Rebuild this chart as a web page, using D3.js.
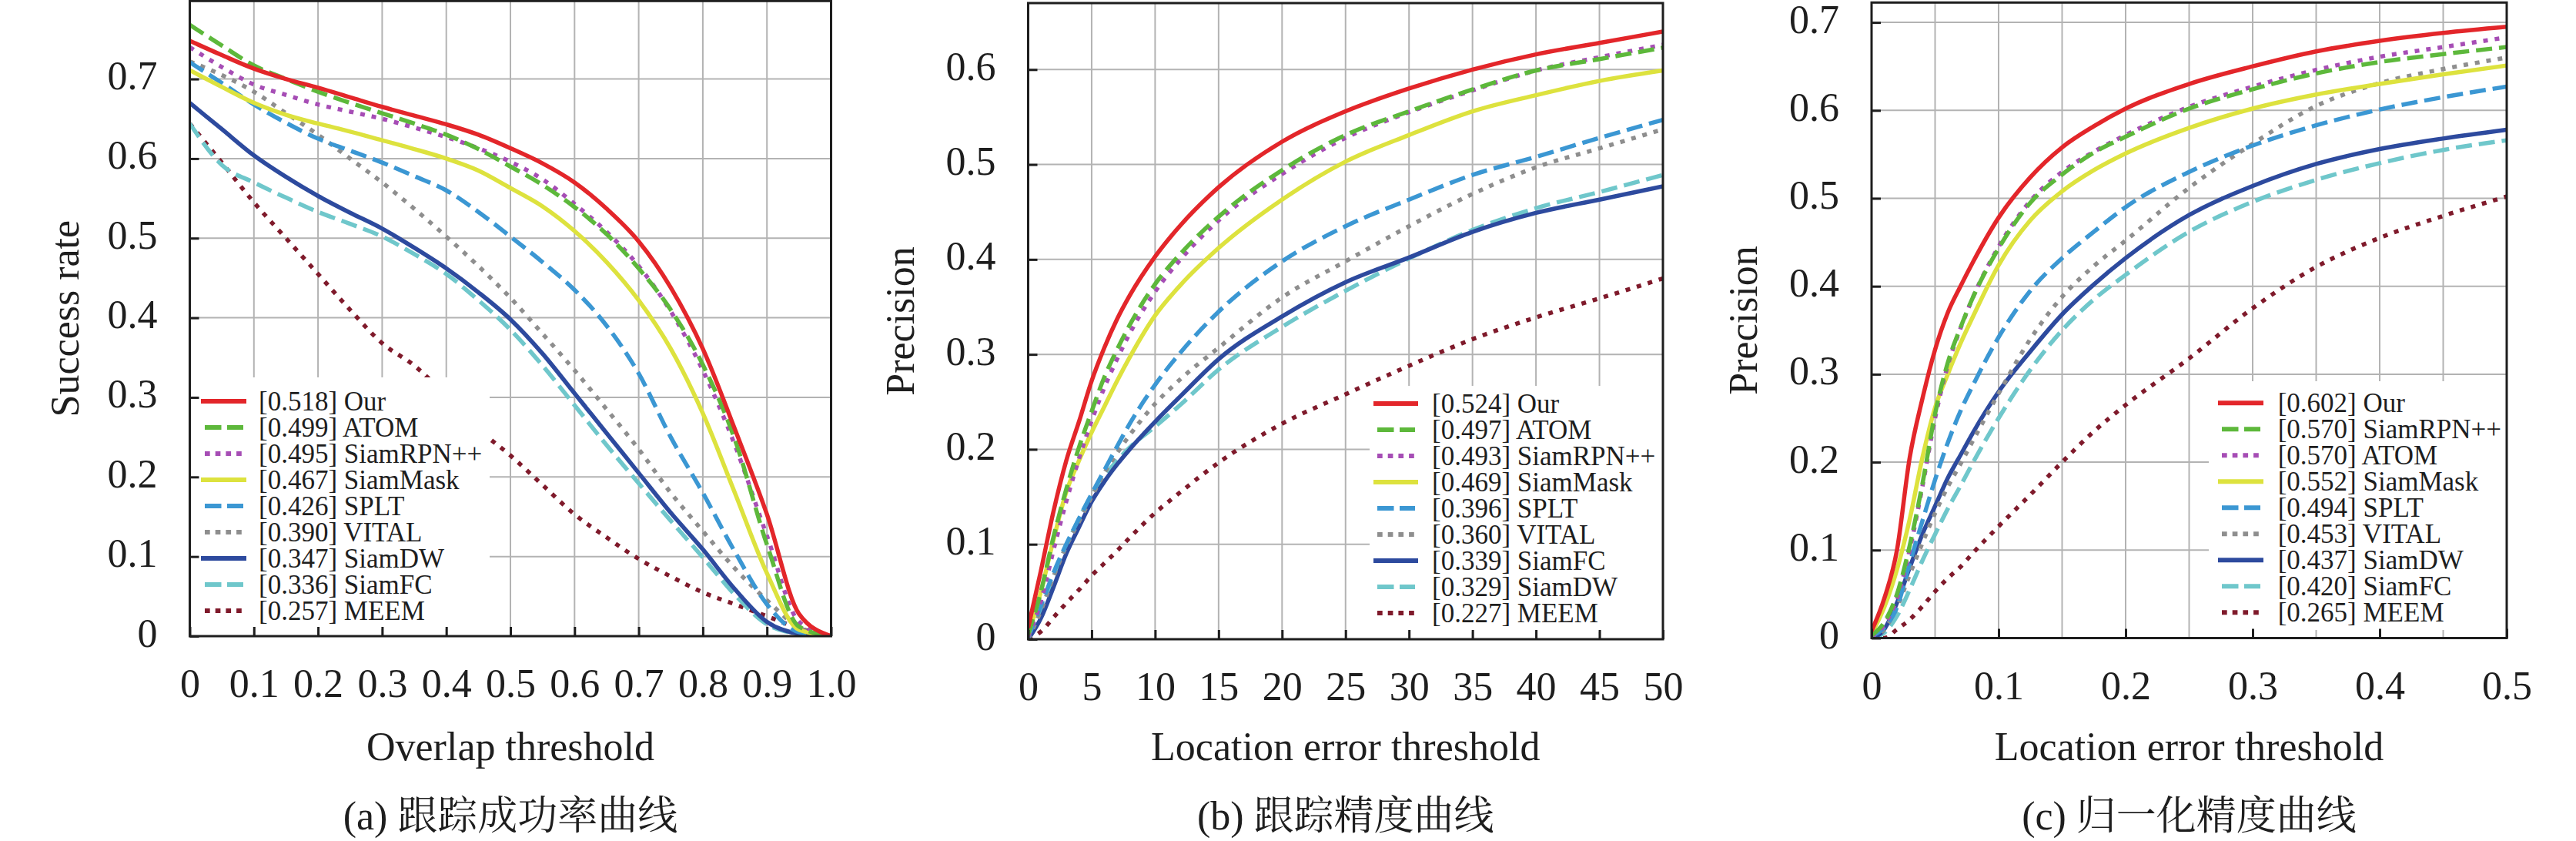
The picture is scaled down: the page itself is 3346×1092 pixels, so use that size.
<!DOCTYPE html>
<html>
<head>
<meta charset="utf-8">
<script src="https://cdn.jsdelivr.net/npm/d3@7"></script>
<style>
html,body{margin:0;padding:0;background:#fff;}
svg{display:block;}
</style>
</head>
<body>
<svg id="chart" width="3346" height="1092"></svg>
<script>
// ---------------- DATA ----------------
// (a) success plot
const xA = [0,0.05,0.1,0.15,0.2,0.25,0.3,0.35,0.4,0.45,0.5,0.55,0.6,0.65,0.7,0.75,0.8,0.85,0.9,0.95,1.0];
const a_our   = [0.748,0.730,0.713,0.700,0.689,0.677,0.665,0.654,0.643,0.630,0.613,0.594,0.570,0.537,0.496,0.438,0.361,0.260,0.153,0.028,0];
const a_atom  = [0.768,0.742,0.717,0.700,0.684,0.670,0.657,0.644,0.630,0.612,0.590,0.567,0.539,0.505,0.462,0.410,0.341,0.247,0.115,0.012,0];
const a_rpn   = [0.740,0.715,0.693,0.680,0.668,0.659,0.650,0.639,0.627,0.613,0.596,0.574,0.543,0.508,0.465,0.408,0.334,0.240,0.126,0.018,0];
const a_mask  = [0.711,0.690,0.670,0.655,0.644,0.634,0.623,0.612,0.600,0.585,0.563,0.540,0.509,0.470,0.422,0.361,0.280,0.180,0.079,0.008,0];
const a_splt  = [0.721,0.695,0.668,0.645,0.625,0.610,0.595,0.578,0.560,0.533,0.502,0.470,0.435,0.390,0.330,0.250,0.180,0.106,0.040,0.005,0];
const a_vital = [0.722,0.705,0.684,0.657,0.630,0.600,0.570,0.537,0.502,0.465,0.425,0.380,0.334,0.285,0.235,0.180,0.132,0.085,0.045,0.011,0];
const a_dw    = [0.670,0.637,0.604,0.577,0.553,0.532,0.512,0.488,0.462,0.432,0.398,0.355,0.305,0.255,0.205,0.155,0.109,0.059,0.018,0.003,0];
const a_fc    = [0.644,0.592,0.570,0.551,0.533,0.518,0.502,0.480,0.455,0.422,0.385,0.340,0.290,0.240,0.192,0.145,0.099,0.052,0.015,0.003,0];
const a_meem  = [0.644,0.595,0.545,0.500,0.455,0.410,0.368,0.340,0.302,0.260,0.227,0.190,0.153,0.124,0.097,0.075,0.055,0.040,0.025,0.010,0];
const namesA  = ["Our","ATOM","SiamRPN++","SiamMask","SPLT","VITAL","SiamDW","SiamFC","MEEM"];
const scoresA = ["0.518","0.499","0.495","0.467","0.426","0.390","0.347","0.336","0.257"];
const tickAX  = [0,0.1,0.2,0.3,0.4,0.5,0.6,0.7,0.8,0.9,1.0];
const tickAXLabels = ["0","0.1","0.2","0.3","0.4","0.5","0.6","0.7","0.8","0.9","1.0"];
const tickAY  = [0,0.1,0.2,0.3,0.4,0.5,0.6,0.7];
const tickAYLabels = ["0","0.1","0.2","0.3","0.4","0.5","0.6","0.7"];

// (b) precision plot
const xB = [0,1,2,3,4,5,6,7,8,10,12,15,20,25,30,35,40,45,50];
const b_our   = [0.012,0.072,0.135,0.188,0.229,0.272,0.307,0.337,0.362,0.403,0.436,0.476,0.524,0.556,0.580,0.600,0.616,0.628,0.640];
const b_atom  = [0.005,0.050,0.108,0.158,0.202,0.240,0.276,0.305,0.331,0.374,0.406,0.445,0.494,0.531,0.556,0.579,0.599,0.611,0.623];
const b_rpn   = [0.003,0.040,0.094,0.145,0.190,0.230,0.265,0.295,0.322,0.366,0.400,0.441,0.490,0.528,0.555,0.578,0.599,0.613,0.626];
const b_mask  = [0.005,0.050,0.105,0.155,0.188,0.218,0.245,0.272,0.297,0.341,0.373,0.412,0.463,0.503,0.531,0.556,0.573,0.588,0.599];
const b_splt  = [0.002,0.035,0.070,0.100,0.127,0.153,0.178,0.203,0.227,0.268,0.302,0.345,0.398,0.435,0.463,0.489,0.508,0.528,0.547];
const b_vital = [0,0.030,0.066,0.098,0.124,0.150,0.175,0.196,0.215,0.248,0.274,0.307,0.360,0.398,0.435,0.469,0.497,0.517,0.537];
const b_fc    = [0,0.022,0.055,0.090,0.118,0.145,0.166,0.184,0.200,0.229,0.256,0.295,0.340,0.376,0.402,0.429,0.449,0.463,0.477];
const b_dw    = [0,0.030,0.065,0.098,0.127,0.152,0.172,0.188,0.202,0.224,0.247,0.284,0.329,0.367,0.401,0.431,0.454,0.471,0.489];
const b_meem  = [0,0.008,0.023,0.038,0.052,0.067,0.080,0.093,0.107,0.133,0.155,0.186,0.227,0.258,0.288,0.316,0.339,0.359,0.380];
const namesB  = ["Our","ATOM","SiamRPN++","SiamMask","SPLT","VITAL","SiamFC","SiamDW","MEEM"];
const scoresB = ["0.524","0.497","0.493","0.469","0.396","0.360","0.339","0.329","0.227"];
const tickBX  = [0,5,10,15,20,25,30,35,40,45,50];
const tickBXLabels = ["0","5","10","15","20","25","30","35","40","45","50"];
const tickBY  = [0,0.1,0.2,0.3,0.4,0.5,0.6];
const tickBYLabels = ["0","0.1","0.2","0.3","0.4","0.5","0.6"];

// (c) normalized precision plot
const xC = [0,0.01,0.02,0.03,0.04,0.05,0.06,0.07,0.08,0.1,0.125,0.15,0.175,0.2,0.25,0.3,0.35,0.4,0.45,0.5];
const c_our   = [0.008,0.045,0.100,0.205,0.272,0.328,0.370,0.400,0.428,0.478,0.524,0.558,0.582,0.602,0.630,0.650,0.667,0.679,0.688,0.695];
const c_rpn   = [0.003,0.018,0.050,0.105,0.175,0.255,0.313,0.353,0.388,0.443,0.495,0.527,0.552,0.570,0.602,0.624,0.642,0.655,0.664,0.672];
const c_atom  = [0.002,0.015,0.045,0.100,0.172,0.250,0.310,0.352,0.388,0.445,0.497,0.530,0.553,0.572,0.604,0.627,0.646,0.661,0.672,0.683];
const c_mask  = [0.005,0.035,0.078,0.135,0.205,0.262,0.300,0.335,0.366,0.424,0.475,0.508,0.532,0.551,0.580,0.602,0.618,0.630,0.641,0.651];
const c_splt  = [0.002,0.012,0.035,0.085,0.133,0.180,0.222,0.258,0.288,0.342,0.395,0.432,0.462,0.490,0.530,0.560,0.583,0.601,0.615,0.627];
const c_vital = [0,0.010,0.035,0.072,0.108,0.142,0.172,0.198,0.225,0.278,0.340,0.388,0.423,0.452,0.512,0.562,0.605,0.631,0.647,0.660];
const c_dw    = [0,0.010,0.040,0.080,0.118,0.150,0.182,0.208,0.234,0.280,0.326,0.368,0.402,0.432,0.481,0.514,0.539,0.556,0.568,0.578];
const c_fc    = [0,0.006,0.025,0.055,0.088,0.118,0.147,0.173,0.200,0.250,0.305,0.350,0.385,0.413,0.462,0.496,0.521,0.540,0.555,0.566];
const c_meem  = [0,0,0.010,0.021,0.036,0.053,0.068,0.081,0.097,0.127,0.163,0.200,0.235,0.265,0.318,0.375,0.422,0.455,0.480,0.502];
const namesC  = ["Our","SiamRPN++","ATOM","SiamMask","SPLT","VITAL","SiamDW","SiamFC","MEEM"];
const scoresC = ["0.602","0.570","0.570","0.552","0.494","0.453","0.437","0.420","0.265"];
const tickCX  = [0,0.1,0.2,0.3,0.4,0.5];
const tickCXLabels = ["0","0.1","0.2","0.3","0.4","0.5"];
const gridCX  = [0.05,0.1,0.15,0.2,0.25,0.3,0.35,0.4,0.45];
const tickCY  = [0,0.1,0.2,0.3,0.4,0.5,0.6,0.7];
const tickCYLabels = ["0","0.1","0.2","0.3","0.4","0.5","0.6","0.7"];

// ---------------- STYLE / LAYOUT ----------------
const styles = [
  {color:"#E3262A", kind:"solid"},
  {color:"#5DB83B", kind:"dashed"},
  {color:"#A64DB5", kind:"dotted"},
  {color:"#DDE23E", kind:"solid"},
  {color:"#3B97D3", kind:"dashed"},
  {color:"#8E8E8E", kind:"dotted"},
  {color:"#2D4A9E", kind:"solid"},
  {color:"#6FC7CB", kind:"dashed"},
  {color:"#7F1A2B", kind:"dotted"}
];
const plotDash = {solid:null, dashed:"21 9", dotted:"6 9"};
const legDash  = {solid:null, dashed:"21.5 7.5", dotted:"6.7 7"};
const SERIF = "'Liberation Serif','Times New Roman',Times,serif";
const CAPFONT = "'Liberation Serif','Times New Roman','Noto Serif CJK SC','Noto Sans CJK SC',serif";
const INK = "#1e1e1e";

const panels = [
  { x:xA, series:[a_our,a_atom,a_rpn,a_mask,a_splt,a_vital,a_dw,a_fc,a_meem],
    names:namesA, scores:scoresA,
    tickX:tickAX, tickXL:tickAXLabels, tickY:tickAY, tickYL:tickAYLabels,
    gridX:tickAX.slice(1,-1), gridY:tickAY.slice(1),
    left:246.5, right:1079.5, bottom:826, top:1.3, ymax:0.798,
    ytitle:"Success rate", ytx:102, xtitle:"Overlap threshold", caption:"(a) 跟踪成功率曲线",
    lg:{x0:246.5, x1:636, y0:490, y1:817, row0:521, sx0:261, sx1:320, tx:336} },
  { x:xB, series:[b_our,b_atom,b_rpn,b_mask,b_splt,b_vital,b_fc,b_dw,b_meem],
    names:namesB, scores:scoresB,
    tickX:tickBX, tickXL:tickBXLabels, tickY:tickBY, tickYL:tickBYLabels,
    gridX:tickBX.slice(1,-1), gridY:tickBY.slice(1),
    left:1335.5, right:2160, bottom:830, top:4, ymax:0.67,
    ytitle:"Precision", ytx:1187, xtitle:"Location error threshold", caption:"(b) 跟踪精度曲线",
    lg:{x0:1779, x1:2160, y0:501, y1:820, row0:524, sx0:1784, sx1:1842, tx:1860} },
  { x:xC, series:[c_our,c_rpn,c_atom,c_mask,c_splt,c_vital,c_dw,c_fc,c_meem],
    names:namesC, scores:scoresC,
    tickX:tickCX, tickXL:tickCXLabels, tickY:tickCY, tickYL:tickCYLabels,
    gridX:gridCX, gridY:tickCY.slice(1),
    left:2431, right:3256, bottom:828.5, top:3.3, ymax:0.7226,
    ytitle:"Precision", ytx:2282, xtitle:"Location error threshold", caption:"(c) 归一化精度曲线",
    lg:{x0:2869, x1:3256, y0:495, y1:818, row0:523.3, sx0:2881, sx1:2940, tx:2958.7} }
];

// ---------------- DRAW ----------------
const svg = d3.select("#chart");
svg.append("rect").attr("width",3346).attr("height",1092).attr("fill","#fff");

panels.forEach((p, pi) => {
  const x = d3.scaleLinear().domain([p.x[0], p.x[p.x.length-1]]).range([p.left, p.right]);
  const y = d3.scaleLinear().domain([0, p.ymax]).range([p.bottom, p.top]);
  const g = svg.append("g");

  // grid
  g.append("g").selectAll("line").data(p.gridX).join("line")
    .attr("x1", d => x(d)).attr("x2", d => x(d))
    .attr("y1", p.bottom).attr("y2", p.top)
    .attr("stroke", "#b3b3b3").attr("stroke-width", 2);
  g.append("g").selectAll("line").data(p.gridY).join("line")
    .attr("x1", p.left).attr("x2", p.right)
    .attr("y1", d => y(d)).attr("y2", d => y(d))
    .attr("stroke", "#b3b3b3").attr("stroke-width", 2);

  // clip
  const cid = "clip" + pi;
  svg.append("clipPath").attr("id", cid).append("rect")
    .attr("x", p.left).attr("y", p.top)
    .attr("width", p.right - p.left).attr("height", p.bottom - p.top);

  const line = d3.line()
    .x((d, i) => x(p.x[i]))
    .y(d => y(d))
    .curve(d3.curveMonotoneX);

  const lines = g.append("g").attr("clip-path", `url(#${cid})`);
  for (let k = p.series.length - 1; k >= 0; k--) {
    const st = styles[k];
    lines.append("path")
      .datum(p.series[k])
      .attr("d", line)
      .attr("fill", "none")
      .attr("stroke", st.color)
      .attr("stroke-width", 5.5)
      .attr("stroke-linecap", "butt")
      .attr("stroke-linejoin", "round")
      .attr("stroke-dasharray", plotDash[st.kind]);
  }

  // legend
  const lg = g.append("g");
  lg.append("rect")
    .attr("x", p.lg.x0).attr("y", p.lg.y0)
    .attr("width", p.lg.x1 - p.lg.x0).attr("height", p.lg.y1 - p.lg.y0)
    .attr("fill", "#fff");
  p.names.forEach((nm, k) => {
    const st = styles[k];
    const cy = p.lg.row0 + k * 34;
    const inset = st.kind === "solid" ? 0 : 5;
    const inset2 = st.kind === "solid" ? 0 : 4;
    lg.append("line")
      .attr("x1", p.lg.sx0 + inset).attr("x2", p.lg.sx1 - inset2)
      .attr("y1", cy).attr("y2", cy)
      .attr("stroke", st.color).attr("stroke-width", 6)
      .attr("stroke-dasharray", legDash[st.kind]);
    lg.append("text")
      .attr("x", p.lg.tx).attr("y", cy + 11.5)
      .attr("font-family", SERIF).attr("font-size", 35).attr("fill", INK)
      .text(`[${p.scores[k]}] ${nm}`);
  });

  // axes
  const ax = d3.axisBottom(x).tickValues(p.tickX)
    .tickFormat((d, i) => p.tickXL[i]).tickSizeInner(-12).tickSizeOuter(0);
  g.append("g").attr("transform", `translate(0,${p.bottom})`)
    .call(ax)
    .attr("font-size", 52).attr("font-family", SERIF)
    .call(s => {
      s.select(".domain").remove();
      s.selectAll(".tick line").attr("stroke", INK).attr("stroke-width", 3);
      s.selectAll(".tick text").attr("y", 79).attr("dy", null).attr("fill", INK);
    });
  const ay = d3.axisLeft(y).tickValues(p.tickY)
    .tickFormat((d, i) => p.tickYL[i]).tickSizeInner(-12).tickSizeOuter(0);
  g.append("g").attr("transform", `translate(${p.left},0)`)
    .call(ay)
    .attr("font-size", 52).attr("font-family", SERIF)
    .call(s => {
      s.select(".domain").remove();
      s.selectAll(".tick line").attr("stroke", INK).attr("stroke-width", 3);
      s.selectAll(".tick text").attr("x", -42).attr("dy", null).attr("y", 13).attr("fill", INK);
    });

  // box
  g.append("rect")
    .attr("x", p.left).attr("y", p.top)
    .attr("width", p.right - p.left).attr("height", p.bottom - p.top)
    .attr("fill", "none").attr("stroke", INK).attr("stroke-width", 3);

  // titles
  const cx = (p.left + p.right) / 2;
  g.append("text")
    .attr("x", cx).attr("y", 987).attr("text-anchor", "middle")
    .attr("font-family", SERIF).attr("font-size", 52).attr("fill", INK)
    .text(p.xtitle);
  g.append("text")
    .attr("transform", `translate(${p.ytx},${(p.top + p.bottom) / 2}) rotate(-90)`)
    .attr("text-anchor", "middle")
    .attr("font-family", SERIF).attr("font-size", 52).attr("fill", INK)
    .text(p.ytitle);
  g.append("text")
    .attr("x", cx).attr("y", 1077).attr("text-anchor", "middle")
    .attr("font-family", CAPFONT).attr("font-size", 52).attr("fill", INK)
    .text(p.caption);
});
</script>
</body>
</html>
